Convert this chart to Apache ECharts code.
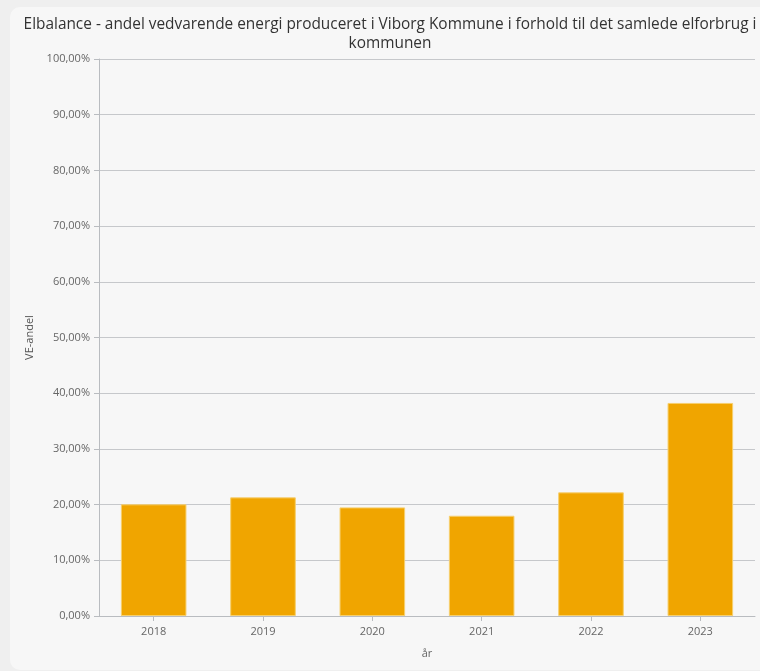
<!DOCTYPE html>
<html>
<head>
<meta charset="utf-8">
<script src="https://cdn.jsdelivr.net/npm/echarts@6/dist/echarts.min.js"></script>
<style>
    html, body { margin: 0; padding: 0; background: #efefef; }
    #elbalance { width: 760px; height: 671px; }
</style>
</head>
<body>
<div id="elbalance"></div>
<script>
// år og VE-andel i procent
let years = ['2018', '2019', '2020', '2021', '2022', '2023'];
let veShare = [20.05, 21.3, 19.5, 18.0, 22.2, 38.25];
let titleLines = [
    'Elbalance - andel vedvarende energi produceret i Viborg Kommune i forhold til det samlede elforbrug i',
    'kommunen'
];

let font = "'Open Sans', 'Noto Sans', sans-serif";
let axisColor = '#b9bcc0';

let option = {
    textStyle: {
        fontFamily: font
    },
    graphic: [
        {
            type: 'rect',
            z: -10,
            shape: {x: 10, y: 7, width: 780, height: 663, r: 10},
            style: {fill: '#f7f7f7'}
        }
    ],
    title: {
        text: titleLines.join('\n'),
        left: 385,
        textAlign: 'center',
        top: 10,
        textStyle: {
            color: '#333',
            fontSize: 15.4,
            fontWeight: 'normal',
            fontFamily: font,
            lineHeight: 19
        }
    },
    grid: {
        left: 99,
        right: 5,
        top: 59,
        bottom: 55,
        containLabel: false
    },
    xAxis: {
        type: 'category',
        data: years,
        name: 'år',
        nameLocation: 'middle',
        nameGap: 32,
        nameTextStyle: {
            color: '#666',
            fontSize: 11
        },
        axisTick: {
            show: true,
            alignWithLabel: true,
            length: 5,
            lineStyle: {color: axisColor}
        },
        axisLine: {
            lineStyle: {color: axisColor}
        },
        axisLabel: {
            color: '#666',
            fontSize: 11,
            margin: 10
        }
    },
    yAxis: {
        type: 'value',
        min: 0,
        max: 100,
        interval: 10,
        name: 'VE-andel',
        nameLocation: 'middle',
        nameGap: 62,
        nameTextStyle: {
            color: '#555',
            fontSize: 11
        },
        axisLine: {
            show: true,
            lineStyle: {color: axisColor}
        },
        axisTick: {
            show: true,
            length: 5,
            lineStyle: {color: axisColor}
        },
        axisLabel: {
            color: '#666',
            fontSize: 11,
            margin: 9,
            formatter: (v) => v.toFixed(2).replace('.', ',') + '%'
        },
        splitLine: {
            lineStyle: {color: '#c6c8cb', width: 1}
        }
    },
    series: [
        {
            name: 'VE-andel',
            type: 'bar',
            data: veShare,
            barWidth: '60%',
            itemStyle: {
                color: '#f0a500',
                borderColor: '#f6cf6e',
                borderWidth: 1
            }
        }
    ]
};

let chart = echarts.init(document.getElementById('elbalance'));
chart.setOption(option);
</script>
</body>
</html>
